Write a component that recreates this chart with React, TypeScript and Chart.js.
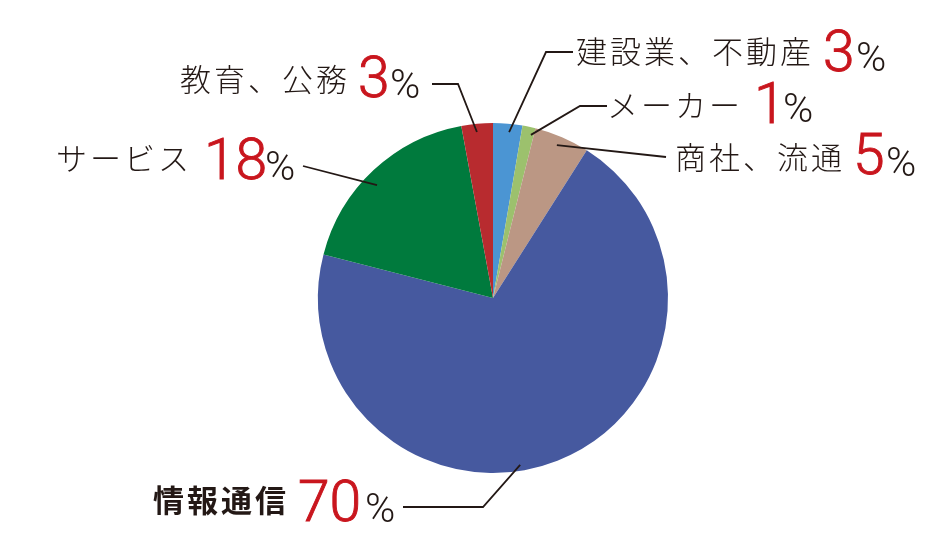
import React, { useEffect, useRef } from "react";
import { Chart, registerables } from "chart.js";

Chart.register(...registerables);

const categories = ["建設業、不動産", "メーカー", "商社、流通", "情報通信", "サービス", "教育、公務"];
const shares = [2.7, 1.2, 5.1, 70, 18.1, 2.9];
const shareLabels = ["3", "1", "5", "70", "18", "3"];
const sliceColors = ["#4b95d3", "#9cc16d", "#bb9784", "#46599f", "#007a3d", "#b82b2f"];
const boldLabel = [false, false, false, true, false, false];

const TEXT_DARK = "#231815";
const TEXT_RED = "#c9161e";
const JP_FONT = '"Noto Sans CJK JP", "Noto Sans", sans-serif';
const NUM_FONT = 'Roboto, "Noto Sans", sans-serif';

// Annotation layout (leader-line geometry and label placement, in canvas px)
const layout = [
  { frac: 0.57, rf: 0.953, path: [[546, 52], [573, 52]], jp: [577, 51.5], num: [825, 72], pct: [858, 71] },
  { frac: 0.78, rf: 0.957, path: [[580, 106], [607, 106]], jp: [610, 105], num: [758, 123], pct: [785, 122] },
  { frac: 0.47, rf: 0.947, path: [[666, 157]], jp: [677, 157], num: [857, 175], pct: [888, 176] },
  { frac: 0.549, rf: 0.966, path: [[483, 507], [403, 507]], jp: [153, 500], num: [300, 522], pct: [367, 522] },
  { frac: 0.458, rf: 0.925, path: [[303, 166]], jp: [58, 158], num: [208, 180], pct: [267, 180] },
  { frac: 0.47, rf: 0.953, path: [[458, 84], [432, 84]], jp: [180, 79], num: [360, 98], pct: [392, 98] },
];

function drawInkCentered(ctx: CanvasRenderingContext2D, text: string, inkLeft: number, cy: number) {
  const m = ctx.measureText(text);
  const baseline = cy + (m.actualBoundingBoxAscent - m.actualBoundingBoxDescent) / 2;
  ctx.fillText(text, inkLeft + m.actualBoundingBoxLeft, baseline);
}

function drawInkBottom(ctx: CanvasRenderingContext2D, text: string, inkLeft: number, bottom: number, stroke = 0) {
  const m = ctx.measureText(text);
  const tx = inkLeft + m.actualBoundingBoxLeft;
  const ty = bottom - m.actualBoundingBoxDescent;
  ctx.fillText(text, tx, ty);
  if (stroke > 0) {
    ctx.lineWidth = stroke;
    ctx.strokeStyle = ctx.fillStyle;
    ctx.strokeText(text, tx, ty);
  }
}

const labelPlugin = {
  id: "pieLabels",
  afterDraw(chart: any) {
    const ctx: CanvasRenderingContext2D = chart.ctx;
    const meta = chart.getDatasetMeta(0);
    ctx.save();
    ctx.textAlign = "left";
    ctx.textBaseline = "alphabetic";
    meta.data.forEach((arc: any, i: number) => {
      const L = layout[i];
      const { x, y, startAngle, endAngle, outerRadius } = arc.getProps(
        ["x", "y", "startAngle", "endAngle", "outerRadius"],
        true
      );
      const a = startAngle + (endAngle - startAngle) * L.frac;
      const sx = x + Math.cos(a) * outerRadius * L.rf;
      const sy = y + Math.sin(a) * outerRadius * L.rf;
      ctx.beginPath();
      ctx.strokeStyle = TEXT_DARK;
      ctx.lineWidth = 1.8;
      ctx.lineJoin = "miter";
      ctx.moveTo(sx, sy);
      L.path.forEach((p) => ctx.lineTo(p[0], p[1]));
      ctx.stroke();

      // category text
      ctx.fillStyle = TEXT_DARK;
      (ctx as any).letterSpacing = "3px";
      ctx.font = `${boldLabel[i] ? 700 : 300} 31px ${JP_FONT}`;
      drawInkCentered(ctx, categories[i], L.jp[0], L.jp[1]);
      (ctx as any).letterSpacing = "0px";

      // number
      ctx.fillStyle = TEXT_RED;
      ctx.font = `300 57px ${NUM_FONT}`;
      drawInkBottom(ctx, shareLabels[i], L.num[0], L.num[1], 0.9);

      // percent sign
      ctx.fillStyle = TEXT_DARK;
      ctx.font = `300 41px ${NUM_FONT}`;
      drawInkBottom(ctx, "%", L.pct[0], L.pct[1]);
    });
    ctx.restore();
  },
};

export default function App() {
  const ref = useRef<HTMLCanvasElement | null>(null);
  useEffect(() => {
    if (!ref.current) return;
    const chart = new Chart(ref.current, {
      type: "pie",
      data: {
        labels: categories,
        datasets: [
          {
            data: shares,
            backgroundColor: sliceColors,
            borderWidth: 0,
          },
        ],
      },
      options: {
        animation: false,
        responsive: false,
        maintainAspectRatio: false,
        layout: { padding: { left: 318, right: 280, top: 123, bottom: 73 } },
        plugins: {
          legend: { display: false },
          tooltip: { enabled: false },
        },
      },
      plugins: [labelPlugin],
    });
    const fonts = (document as any).fonts;
    if (fonts && fonts.load) {
      Promise.all([
        fonts.load(`300 31px ${JP_FONT}`, "建設業"),
        fonts.load(`700 31px ${JP_FONT}`, "情報通信"),
        fonts.load(`300 57px ${NUM_FONT}`, "0123456789"),
        fonts.load(`300 41px ${NUM_FONT}`, "%"),
      ])
        .then(() => chart.draw())
        .catch(() => {});
    }
    return () => chart.destroy();
  }, []);
  return (
    <div style={{ position: "fixed", left: 0, top: 0, width: 948, height: 546, background: "#fff" }}>
      <canvas ref={ref} width={948} height={546} style={{ width: 948, height: 546, display: "block" }} />
    </div>
  );
}
